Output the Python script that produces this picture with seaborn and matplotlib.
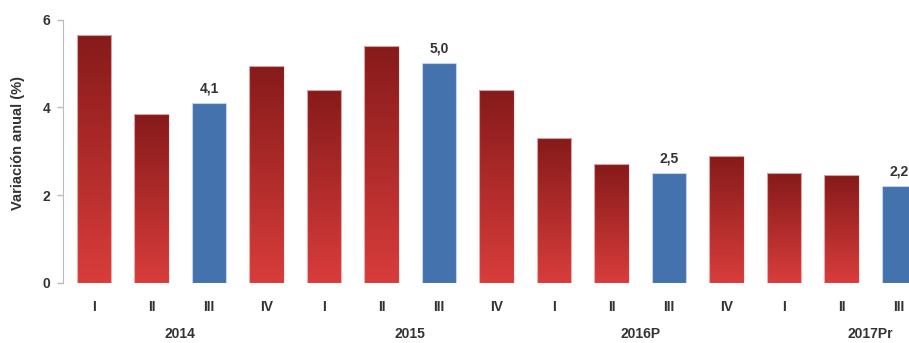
import numpy as np
import pandas as pd
import matplotlib
matplotlib.use("Agg")
import matplotlib.pyplot as plt
import seaborn as sns
from matplotlib.colors import LinearSegmentedColormap
from matplotlib.transforms import blended_transform_factory

# data
quarters = ["I", "II", "III", "IV", "I", "II", "III", "IV",
            "I", "II", "III", "IV", "I", "II", "III"]
years = ["2014"] * 4 + ["2015"] * 4 + ["2016P"] * 4 + ["2017Pr"] * 3
values = [5.65, 3.85, 4.1, 4.95, 4.4, 5.4, 5.0, 4.4, 3.3, 2.7, 2.5, 2.9, 2.5, 2.45, 2.2]
value_labels = ["", "", "4,1", "", "", "", "5,0", "", "", "", "2,5", "", "", "", "2,2"]
year_labels = ["2014", "2015", "2016P", "2017Pr"]

df = pd.DataFrame({"year": years, "quarter": quarters, "value": values})
df["key"] = df["year"] + "-" + df["quarter"]

red_dark = "#861a1a"
red_light = "#d83d3b"
blue = "#4472ad"
colors = [blue if q == "III" else red_dark for q in quarters]

sns.set_style("white")
plt.rcParams['font.family'] = ['Liberation Sans', 'DejaVu Sans']
text_col = "#333333"

fig = plt.figure(figsize=(9.09, 3.43), dpi=100)
ax = fig.add_axes([63 / 909, 60 / 343, 846 / 909, 263.5 / 343])

sns.barplot(data=df, x="key", y="value", hue="key", palette=colors,
            legend=False, width=0.6, saturation=1, ax=ax)

# vertical gradient on the red bars
cmap = LinearSegmentedColormap.from_list("redgrad", [red_light, red_dark])
grad = np.linspace(0, 1, 256).reshape(-1, 1)
for p, q, lab in zip(ax.patches, quarters, value_labels):
    x0, w, h = p.get_x(), p.get_width(), p.get_height()
    if q != "III":
        p.set_facecolor("none")
        p.set_edgecolor((1, 0.85, 0.85, 0.7))
        p.set_linewidth(0.8)
        im = ax.imshow(grad, cmap=cmap, origin="lower", aspect="auto",
                       extent=(x0, x0 + w, 0, h), zorder=p.get_zorder() - 0.1)
        im.set_clip_path(p)
    else:
        p.set_edgecolor((0.8, 0.88, 1, 0.7))
        p.set_linewidth(0.8)
    if lab:
        ax.text(x0 + w / 2, h + 0.33, lab, ha="center", va="center",
                fontsize=10, fontweight="bold", color=text_col)

ax.set_xlim(-0.54, 14.17)
ax.set_ylim(0, 6)
ax.set_yticks([0, 2, 4, 6])
ax.set_xticks(range(len(quarters)))
ax.set_xticklabels(quarters)

for lab in ax.get_xticklabels() + ax.get_yticklabels():
    lab.set_fontweight("bold")
    lab.set_color(text_col)
    lab.set_fontsize(10)

ax.tick_params(axis="x", length=0, pad=12)
ax.tick_params(axis="y", left=True, length=4, width=1, color="#bbbbbb", pad=5)

sns.despine(ax=ax, bottom=True)
ax.spines["left"].set_color("#bbbbbb")
ax.spines["left"].set_bounds(0, 6)

ax.set_xlabel("")
ax.set_ylabel("Variación anual (%)", fontsize=10.5, fontweight="bold", color=text_col)
ax.yaxis.set_label_coords(-38 / 846, 0.53)

# year labels under each group
trans = blended_transform_factory(ax.transData, ax.transAxes)
for yl in year_labels:
    first = years.index(yl)
    ax.text(first + 1.5, -0.195, yl, transform=trans, ha="center", va="center",
            fontsize=10, fontweight="bold", color=text_col)

fig.savefig("out.png", dpi=100)
